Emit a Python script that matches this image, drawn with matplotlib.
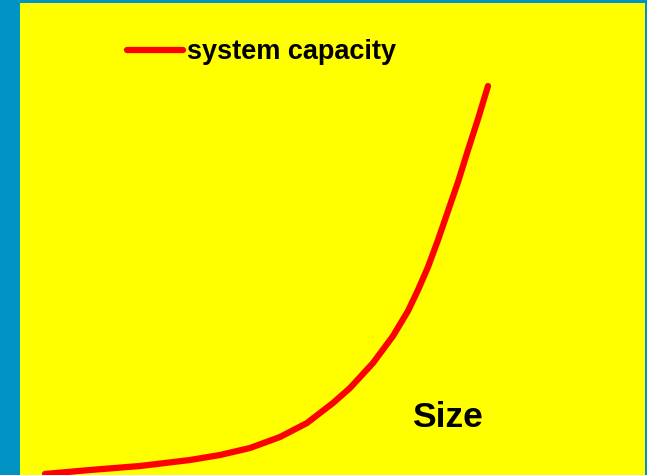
import matplotlib
matplotlib.use("Agg")
import matplotlib.pyplot as plt

# Data (arbitrary units)
size = [25, 70, 120, 170, 200, 230, 260, 287, 313, 330, 353, 373, 388,
        398, 408, 418, 428, 438, 448, 458, 468]
capacity = [1, 5, 9, 15, 20, 27, 38, 52, 72, 87, 112, 139, 164,
            185, 208, 235, 264, 293, 325, 356, 389]
series_label = "system capacity"
axis_label = "Size"

W, H, DPI = 647, 475, 100
fig = plt.figure(figsize=(W / DPI, H / DPI), dpi=DPI, facecolor="#0093C4")
ax = fig.add_axes([20 / W, 0, 625 / W, 472 / H])
ax.set_facecolor("#FFFF00")
ax.set_xlim(0, 625)
ax.set_ylim(0, 472)
for s in ax.spines.values():
    s.set_visible(False)
ax.set_xticks([])
ax.set_yticks([])

ax.plot(size, capacity, color="#FF0000", lw=4.5, solid_capstyle="round",
        solid_joinstyle="round", label=series_label)

leg = ax.legend(loc="center left", bbox_to_anchor=(127 / W, 1 - 52 / H),
                bbox_transform=fig.transFigure, frameon=False, borderpad=0,
                borderaxespad=0, handlelength=2.05, handletextpad=0.15,
                prop={"family": "Liberation Sans", "weight": "bold", "size": 19.5})

fig.text(412 / W, 1 - 427 / H, axis_label, family="Liberation Sans",
         weight="bold", fontsize=25.5, ha="left", va="baseline", color="black")

fig.savefig("out.png", dpi=DPI, facecolor=fig.get_facecolor())
